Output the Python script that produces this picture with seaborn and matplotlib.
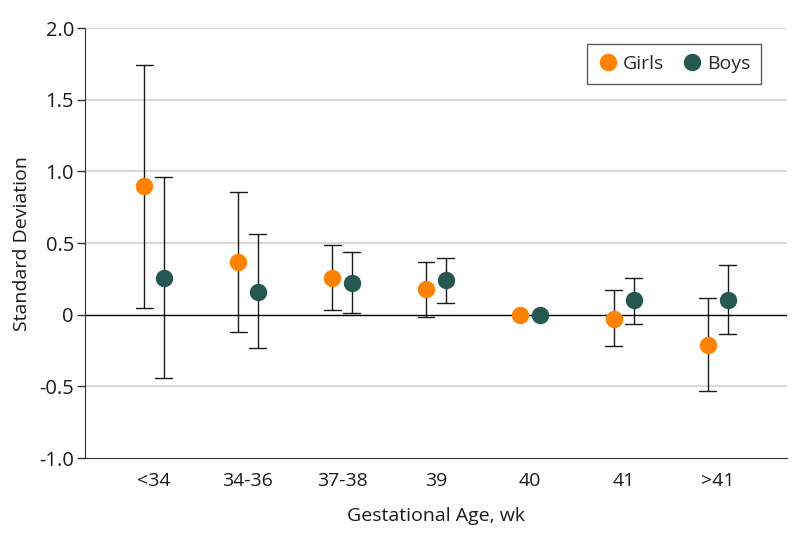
import pandas as pd
import matplotlib.pyplot as plt
import seaborn as sns
import numpy as np


# values (estimate, lower CI, upper CI)
groups = ["<34", "34-36", "37-38", "39", "40", "41", ">41"]
girls_est = [0.90, 0.37, 0.26, 0.18, 0.0, -0.03, -0.21]
girls_lo = [0.05, -0.12, 0.035, -0.015, 0.0, -0.22, -0.53]
girls_hi = [1.74, 0.86, 0.49, 0.37, 0.0, 0.17, 0.12]
boys_est = [0.26, 0.16, 0.225, 0.245, 0.0, 0.10, 0.10]
boys_lo = [-0.44, -0.23, 0.015, 0.085, 0.0, -0.065, -0.135]
boys_hi = [0.96, 0.565, 0.44, 0.395, 0.0, 0.26, 0.345]
sexes = ["Girls", "Boys"]
colors = ["#FF8200", "#275753"]
ytick_vals = [-1.0, -0.5, 0, 0.5, 1.0, 1.5, 2.0]
ytick_labels = ["-1.0", "-0.5", "0", "0.5", "1.0", "1.5", "2.0"]


# long table: lo / est / hi per group -> median gives est, 100% interval gives lo..hi
rows = []
for sex, est, lo, hi in [("Girls", girls_est, girls_lo, girls_hi),
                         ("Boys", boys_est, boys_lo, boys_hi)]:
    for g, e, l, h in zip(groups, est, lo, hi):
        for v in (l, e, h):
            rows.append({"age": g, "sex": sex, "sd": v})
df = pd.DataFrame(rows)


sns.set_style("white")
plt.rcParams["font.family"] = ["Open Sans", "DejaVu Sans"]

fig, ax = plt.subplots(figsize=(7.98, 5.43), dpi=100)
fig.subplots_adjust(left=0.1065, right=0.986, bottom=0.1565, top=0.948)

sns.pointplot(data=df, x="age", y="sd", hue="sex", order=groups, hue_order=sexes,
              palette=colors, estimator="median", errorbar=("pi", 100),
              dodge=0.21, linestyle="none", markers="o", markersize=10.5,
              capsize=0.18, err_kws={"color": "#1a1a1a", "linewidth": 1}, ax=ax)

# markers above the error bars
for line in ax.lines:
    if line.get_marker() == "o":
        line.set_zorder(5)

ax.axhline(0, color="black", linewidth=1, zorder=2)

ax.set_ylim(-1.0, 2.0)
ax.set_xlim(-0.735, 6.735)
ax.set_yticks(ytick_vals)
ax.set_yticklabels(ytick_labels)
for y in ytick_vals:
    if y not in (0, -1.0):
        ax.axhline(y, color="#d9d9d9", linewidth=1.5, zorder=0)

ax.set_xticklabels(groups, fontsize=14)
ax.tick_params(axis="y", labelsize=14.5, length=6, width=1, color="#333333",
               labelcolor="#1a1a1a", left=True, pad=2)
ax.tick_params(axis="x", length=0, pad=10, labelcolor="#1a1a1a")
ax.set_xlabel("Gestational Age, wk", fontsize=14, labelpad=12, color="#1a1a1a")
ax.set_ylabel("Standard Deviation", fontsize=14, labelpad=6, color="#1a1a1a")

sns.despine(ax=ax)
ax.spines["left"].set_color("#333333")
ax.spines["bottom"].set_color("#333333")

handles, labels = ax.get_legend_handles_labels()
leg = ax.legend(handles, labels, loc="upper right", bbox_to_anchor=(0.963, 0.963),
                borderaxespad=0, ncol=2, fontsize=14, frameon=True, fancybox=False,
                handletextpad=0.2, columnspacing=0.9, borderpad=0.55,
                handlelength=1.1, markerscale=1.0)
leg.get_frame().set_edgecolor("#333333")
leg.get_frame().set_linewidth(1)

plt.savefig("out.png", dpi=100)
